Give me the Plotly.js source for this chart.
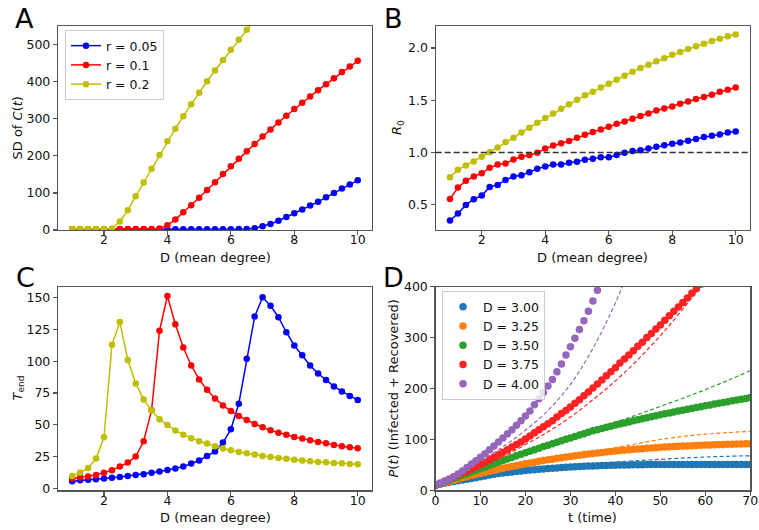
<!DOCTYPE html>
<html><head><meta charset="utf-8">
<script src="https://cdn.plot.ly/plotly-3.0.1.min.js"></script>
<style>html,body{margin:0;padding:0;background:#fff}</style>
</head><body><div id="chart" style="width:759px;height:530px"></div>
<script>
// ---------- data ----------
const meanDegree = [1,1.25,1.5,1.75,2,2.25,2.5,2.75,3,3.25,3.5,3.75,4,4.25,4.5,4.75,5,5.25,5.5,5.75,6,6.25,6.5,6.75,7,7.25,7.5,7.75,8,8.25,8.5,8.75,9,9.25,9.5,9.75,10];
const seriesNames = ['r = 0.05','r = 0.1','r = 0.2'];

// Panel A: SD of C(t)
const sdR005 = [2,2,2,2,2,2,2,2,2,2,2,2,2,2,2,2,2,2,2,2,2,2.5,3,5,10,16,25,35,45,55,66,76,88,100,112,123,134];
const sdR01  = [2,2,2,2,2,2,3,3,3,3,3,4,13,28,48,67,87,108,129,151,172,192,212,232,252,271,290,308,326,343,360,377,393,409,426,441,456];
const sdR02  = [3,3,3,3,3,4,23,53,91,128,165,202,239,273,307,339,370,401,430,458,486,513,540,566];

// Panel B: R0
const r0R005 = [0.350,0.417,0.500,0.554,0.589,0.672,0.691,0.739,0.771,0.784,0.813,0.845,0.867,0.886,0.886,0.902,0.912,0.931,0.940,0.956,0.956,0.976,0.998,1.014,1.023,1.039,1.055,1.071,1.084,1.097,1.113,1.129,1.148,1.161,1.173,1.193,1.202];
const r0R01  = [0.557,0.666,0.730,0.771,0.803,0.854,0.886,0.896,0.934,0.960,0.976,0.998,1.039,1.068,1.090,1.110,1.141,1.170,1.196,1.221,1.247,1.276,1.298,1.323,1.349,1.374,1.403,1.422,1.441,1.467,1.489,1.512,1.531,1.553,1.582,1.601,1.623];
const r0R02  = [0.765,0.835,0.877,0.915,0.960,1.004,1.049,1.100,1.141,1.193,1.237,1.285,1.330,1.374,1.419,1.461,1.505,1.547,1.582,1.623,1.659,1.697,1.735,1.773,1.809,1.840,1.872,1.901,1.936,1.962,1.990,2.016,2.041,2.067,2.089,2.112,2.128];
const r0Threshold = 1.0;

// Panel C: T_end
const tendR005 = [5.7,6.5,6.8,7.3,7.8,8.4,9.1,9.9,10.7,11.2,12.3,13.3,14.6,15.7,17.2,19.6,22.0,25.6,29.0,36.1,46.5,66.6,101.9,135.1,150.3,143.7,134.6,122.8,112.4,104.8,96.7,90.4,85.2,80.2,76.3,72.6,69.5];
const tendR01  = [7.8,8.6,9.4,10.7,12.3,14.4,17.2,20.4,25.1,37.1,61.4,123.9,151.3,129.1,110.8,96.7,85.7,77.6,70.8,65.3,60.9,57.0,53.8,50.7,48.1,45.7,43.9,42.3,40.5,39.2,37.9,36.6,35.5,34.2,33.2,32.4,31.6];
const tendR02  = [9.9,12.5,16.2,23.5,40.2,112.9,130.9,100.9,82.6,70.0,61.4,54.4,49.9,45.5,42.3,39.5,37.1,35.3,33.2,31.4,30.1,28.7,27.7,26.7,25.6,24.8,24.0,23.3,22.5,22.0,21.4,20.9,20.6,20.1,19.9,19.3,19.1];

// Panel D: P(t) simulated (dots) and theory (dashed)
const timeSteps = [0,1,2,3,4,5,6,7,8,9,10,11,12,13,14,15,16,17,18,19,20,21,22,23,24,25,26,27,28,29,30,31,32,33,34,35,36,37,38,39,40,41,42,43,44,45,46,47,48,49,50,51,52,53,54,55,56,57,58,59,60,61,62,63,64,65,66,67,68,69,70];
const dLabels = ['D = 3.00','D = 3.25','D = 3.50','D = 3.75','D = 4.00'];
const pD300 = [10,12,14,16,17.5,19,20.5,22,23.5,25,
  27,28.5,30,31.5,33,34,35,36,37,38,
  39,40,40.5,41.5,42,43,43.5,44,45,45.5,
  46,46.5,47,47.5,48,48,48.5,49,49,49.5,
  49.5,50,50,50,50.5,50.5,50.5,51,51,51,
  51,51,51,51,51,51,51,51,51,51,
  51,51,51,51,51,51,51,51,51,51,51];
const pD325 = [10,12.5,15,17.5,20,22.4,24.7,27,29.2,31.4,
  33.5,35.6,37.6,39.6,41.5,43.4,45.3,47.1,48.9,50.6,
  52.3,53.9,55.5,57,58.5,60,61.4,62.8,64.1,65.4,
  66.7,67.9,69.1,70.3,71.4,72.5,73.5,74.5,75.5,76.4,
  77.3,78.2,79,79.8,80.6,81.3,82,82.7,83.3,83.9,
  84.5,85,85.5,86,86.5,87,87.4,87.8,88.2,88.6,
  89,89.3,89.6,89.9,90.2,90.5,90.8,91,91.2,91.4,91.6];
const pD350 = [10,13.3,16.6,19.9,23.2,26.4,29.7,32.9,36.1,39.3,
  42.5,45.7,48.9,52.1,55.3,58.5,61.6,64.7,67.8,70.9,
  74,77,80,83,86,88.9,91.8,94.7,97.5,100.3,
  103.1,105.9,108.6,111.3,114,117,119.3,121.6,123.8,126,
  128.2,130.3,132.4,134.5,136.6,138.6,140.6,142.6,144.6,146.5,
  148.4,150.3,152.1,153.9,155.7,157.5,159.3,161,162.7,164.4,
  166.1,167.8,169.5,171.1,172.7,174.3,175.9,177.5,179.1,180.7,182.3];
const pD375 = [10,14,18,22,26,30,34,38,42,46,
  51,55,60,65,70,75,80,85,90,95,
  101,107,113,119,125,131,137,144,151,157,
  164,171,178,186,193,201,209,217,225,233,
  241,250,258,266,274,283,291,300,308,317,
  325,334,343,352,360,369,378,387,396,405];
const pD400 = [10,14,18,22,27,32,38,45,52,58,
  65,72,80,87,95,103,111,119,128,137,
  146,156,168,180,192,205,218,233,248,266,
  282,299,316,333,352,372,393];

const theoryTime = [0,5,10,15,20,25,30,35,40,45,50,55,60,65,70];
const thD300 = [10,19,27.5,34.5,40,44.5,48.5,52,55.5,58.5,61,63.5,65.5,67,68];
const thD325 = [10,22.5,34,44,53,61,68,75,84,92,100,106,110.5,113.5,116];
const thD350 = [10,26,42,58,74,89,104,119,134,149,165,181,198,216,235];
const thD375 = [10,27,46,66,90,115,144,178,215,257,304,356,413];
const thD400 = [10,32,58,86,118,157,208,279,368,475];

// ---------- styling ----------
const rColors = ['#0000ff','#ff0000','#bfbf00'];
const dColors = ['#1f77b4','#ff7f0e','#2ca02c','#ff2222','#9467bd'];
const W = 759, H = 530;
const px = v => v / W;
const py = v => (H - v) / H;

function lineTrace(x, y, color, xa, ya, name, show) {
  return {x: x.slice(0, y.length), y: y, xaxis: xa, yaxis: ya, type: 'scatter', mode: 'lines+markers',
    name: name, showlegend: !!show, legend: 'legend',
    line: {color: color, width: 1.5}, marker: {color: color, size: 6.5}, cliponaxis: true};
}

const traces = [];
const aSeries = [sdR005, sdR01, sdR02];
const bSeries = [r0R005, r0R01, r0R02];
const cSeries = [tendR005, tendR01, tendR02];
for (let i = 0; i < 3; i++) traces.push(lineTrace(meanDegree, aSeries[i], rColors[i], 'x', 'y', seriesNames[i], true));
for (let i = 0; i < 3; i++) traces.push(lineTrace(meanDegree, bSeries[i], rColors[i], 'x2', 'y2', seriesNames[i], false));
for (let i = 0; i < 3; i++) traces.push(lineTrace(meanDegree, cSeries[i], rColors[i], 'x3', 'y3', seriesNames[i], false));

const dDots = [pD300, pD325, pD350, pD375, pD400];
const dTheory = [thD300, thD325, thD350, thD375, thD400];
for (let i = 0; i < 5; i++) {
  traces.push({x: timeSteps.slice(0, dDots[i].length), y: dDots[i], xaxis: 'x4', yaxis: 'y4', type: 'scatter',
    mode: 'markers', name: dLabels[i], legend: 'legend2', showlegend: true,
    marker: {color: dColors[i], size: 7.5}});
  traces.push({x: theoryTime.slice(0, dTheory[i].length), y: dTheory[i], xaxis: 'x4', yaxis: 'y4', type: 'scatter',
    mode: 'lines', showlegend: false, hoverinfo: 'skip',
    line: {color: dColors[i], width: 1.2, dash: '4px,2.5px', shape: 'spline'}});
}

const spine = '#555';
function axis(domain, anchor, range, tick0, dtick, extra) {
  return Object.assign({domain: domain, anchor: anchor, range: range, tickmode: 'linear', tick0: tick0, dtick: dtick,
    showline: true, linecolor: spine, linewidth: 1.2, mirror: true, ticks: 'outside', ticklen: 4,
    tickwidth: 1.2, tickcolor: spine, showgrid: false, zeroline: false,
    tickfont: {size: 12.5, color: '#111'}, fixedrange: true}, extra || {});
}
const xExtra = {ticklabelstandoff: -6};

const xA = [px(58), px(372)], xB = [px(435.7), px(750)];
const yTop = [py(230), py(26)], yBot = [py(490.4), py(286.7)];

const titleFont = {family: 'DejaVu Sans', size: 13, color: '#111'};
const letterFont = {family: 'DejaVu Sans', size: 27, color: '#000'};
function ann(text, x, y, opts) {
  return Object.assign({text: text, xref: 'paper', yref: 'paper', x: x, y: y, showarrow: false,
    xanchor: 'center', yanchor: 'middle', font: titleFont}, opts || {});
}

const layout = {
  width: W, height: H, margin: {l: 0, r: 0, t: 0, b: 0},
  paper_bgcolor: '#fff', plot_bgcolor: '#fff',
  font: {family: 'DejaVu Sans', size: 13, color: '#111'},
  xaxis:  axis(xA, 'y',  [0.55, 10.45], 0, 2, xExtra),
  yaxis:  axis(yTop, 'x', [0, 550], 0, 100),
  xaxis2: axis(xB, 'y2', [0.55, 10.45], 0, 2, xExtra),
  yaxis2: axis(yTop, 'x2', [0.26, 2.21], 0.5, 0.5, {tickformat: '.1f'}),
  xaxis3: axis(xA, 'y3', [0.55, 10.45], 0, 2, xExtra),
  yaxis3: axis(yBot, 'x3', [-1.5, 158.6], 0, 25),
  xaxis4: axis([px(435.5), px(750.3)], 'y4', [0, 70], 0, 10, xExtra),
  yaxis4: axis(yBot, 'x4', [0, 400], 0, 100),
  legend: {x: px(65), y: py(30), xanchor: 'left', yanchor: 'top', bgcolor: 'rgba(255,255,255,0.8)',
    bordercolor: '#cccccc', borderwidth: 1, font: {size: 12.5, color: '#111'}, tracegroupgap: 0},
  legend2: {x: px(442), y: py(291), xanchor: 'left', yanchor: 'top', bgcolor: 'rgba(255,255,255,0.8)',
    bordercolor: '#cccccc', borderwidth: 1, font: {size: 12.5, color: '#111'}, tracegroupgap: 0},
  shapes: [{type: 'line', xref: 'x2 domain', x0: 0, x1: 1, yref: 'y2', y0: r0Threshold, y1: r0Threshold,
    line: {color: '#333', width: 1.5, dash: '6px,3px'}}],
  annotations: [
    ann('A', px(13), py(19), {xanchor: 'left', font: letterFont}),
    ann('B', px(382), py(19), {xanchor: 'left', font: letterFont}),
    ann('C', px(14), py(277), {xanchor: 'left', font: letterFont}),
    ann('D', px(381), py(277), {xanchor: 'left', font: letterFont}),
    ann('D (mean degree)', px(215), py(257.5)),
    ann('D (mean degree)', px(592.9), py(257.5)),
    ann('D (mean degree)', px(215), py(517.5)),
    ann('t (time)', px(592.9), py(517.5)),
    ann('SD of <i>C</i>(<i>t</i>)', px(17.5), py(128), {textangle: -90}),
    ann('<i>R</i><sub>0</sub>', px(398), py(128), {textangle: -90}),
    ann('<i>T</i><sub>end</sub>', px(18), py(388.5), {textangle: -90}),
    ann('<i>P</i>(<i>t</i>) (Infected + Recovered)', px(393), py(388.5), {textangle: -90})
  ]
};

Plotly.newPlot('chart', traces, layout, {displayModeBar: false, staticPlot: true});
</script></body></html>
